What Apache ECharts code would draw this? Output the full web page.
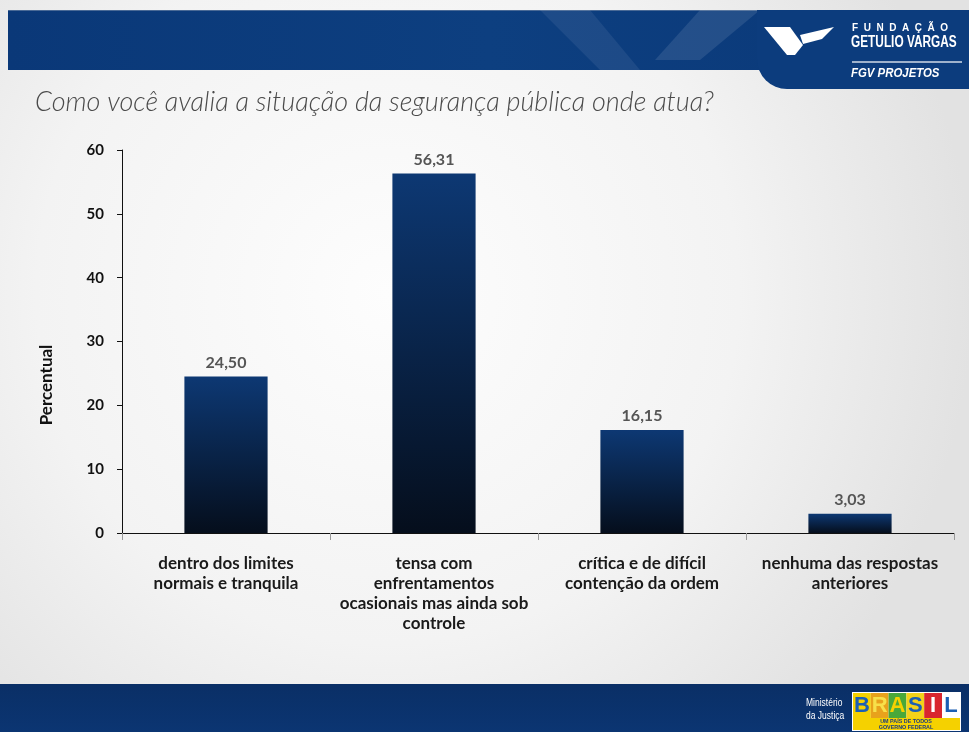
<!DOCTYPE html>
<html>
<head>
<meta charset="utf-8">
<script src="https://cdn.jsdelivr.net/npm/echarts@6/dist/echarts.min.js"></script>
<style>
  html, body { margin: 0; padding: 0; background: #f2f2f2; }
  #chart { width: 969px; height: 732px; }
</style>
</head>
<body>
<div id="chart"></div>
<script>
// Survey answers and percentages
var categories = [
  'dentro dos limites\nnormais e tranquila',
  'tensa com\nenfrentamentos\nocasionais mas ainda sob\ncontrole',
  'crítica e de difícil\ncontenção da ordem',
  'nenhuma das respostas\nanteriores'
];
var percentages = [24.50, 56.31, 16.15, 3.03];
var yTicks = { min: 0, max: 60, step: 10 };

var titleText = 'Como você avalia a situação da segurança pública onde atua?';
var axisName = 'Percentual';

var chart = echarts.init(document.getElementById('chart'), null, { renderer: 'canvas' });

var baseFont = 'Lato, "Open Sans", sans-serif';

// "BRASIL" block letters for the footer badge
var brasilLetters = [
  { ch: 'B', bg: '#f5d100', fg: '#1b5fb4' },
  { ch: 'R', bg: '#e8a21c', fg: '#f7e04a' },
  { ch: 'A', bg: '#49a83a', fg: '#f5d100' },
  { ch: 'S', bg: '#f3d21a', fg: '#1b5fb4' },
  { ch: 'I', bg: '#d9262e', fg: '#ffffff' },
  { ch: 'L', bg: '#ffffff', fg: '#1b5fb4' }
];

var graphics = [
  // top banner
  { type: 'rect', z: 0, shape: { x: 8, y: 10, width: 961, height: 60 },
    style: { fill: new echarts.graphic.LinearGradient(0, 0, 1, 0, [
      { offset: 0, color: '#0a3878' }, { offset: 0.5, color: '#0d3f80' }, { offset: 1, color: '#0a3878' }]) } },
  { type: 'rect', z: 1, shape: { x: 8, y: 10, width: 961, height: 1 }, style: { fill: '#4a6a96' } },
  { type: 'polygon', z: 1, shape: { points: [[540, 10], [590, 10], [640, 70], [600, 70]] },
    style: { fill: 'rgba(255,255,255,0.07)' } },
  { type: 'polygon', z: 1, shape: { points: [[700, 10], [760, 10], [700, 60], [655, 60]] },
    style: { fill: 'rgba(255,255,255,0.10)' } },
  // logo tab with rounded lower-left corner
  { type: 'rect', z: 2, shape: { x: 757, y: 10, width: 212, height: 79, r: [0, 0, 0, 30] },
    style: { fill: '#0c3c7d' } },
  // logo mark
  { type: 'polygon', z: 3, shape: { points: [[764, 27], [790, 27], [803, 45], [795, 55], [787, 55]] },
    style: { fill: '#ffffff' } },
  { type: 'polygon', z: 3, shape: { points: [[800, 35], [834, 27], [822, 39], [803, 44]] },
    style: { fill: '#ffffff' } },
  { type: 'text', z: 3, x: 852, y: 23,
    style: { text: 'F  U  N  D  A  Ç  Ã  O', fill: '#ffffff', font: 'bold 10px "Liberation Sans", sans-serif' } },
  { type: 'text', z: 3, x: 851, y: 35, scaleX: 0.74,
    style: { text: 'GETULIO VARGAS', fill: '#ffffff', font: 'bold 16px "Liberation Sans", sans-serif' } },
  { type: 'rect', z: 3, shape: { x: 852, y: 61, width: 110, height: 2 }, style: { fill: '#9fb2cc' } },
  { type: 'text', z: 3, x: 851, y: 68, scaleX: 0.95,
    style: { text: 'FGV PROJETOS', fill: '#ffffff', font: 'italic bold 12px "Liberation Sans", sans-serif' } },
  // title
  { type: 'text', z: 3, left: 35, top: 89,
    style: { text: titleText, fill: '#4a4a4a', font: 'italic 300 27px ' + baseFont } },
  // rotated value-axis caption
  { type: 'text', z: 3, x: 47, y: 385, rotation: Math.PI / 2,
    style: { text: axisName, fill: '#111111', font: 'bold 17px ' + baseFont, align: 'center', verticalAlign: 'middle' } },
  // bottom banner
  { type: 'rect', z: 0, shape: { x: 0, y: 684, width: 969, height: 48 },
    style: { fill: new echarts.graphic.LinearGradient(0, 0, 0, 1, [
      { offset: 0, color: '#0a2f66' }, { offset: 1, color: '#0b3572' }]) } },
  { type: 'text', z: 3, x: 806, y: 697, scaleX: 0.85,
    style: { text: 'Ministério\nda Justiça', fill: '#ffffff', lineHeight: 13, font: '10px "Liberation Sans", sans-serif' } },
  { type: 'rect', z: 3, shape: { x: 852, y: 692, width: 109, height: 39 }, style: { fill: '#ffffff' } },
  { type: 'rect', z: 3, shape: { x: 853, y: 718, width: 107, height: 12 }, style: { fill: '#f5d100' } },
  { type: 'text', z: 4, x: 906, y: 718.5, scaleX: 0.9,
    style: { text: 'UM PAÍS DE TODOS', fill: '#1a3c80', align: 'center', font: 'bold 6px "Liberation Sans", sans-serif' } },
  { type: 'text', z: 4, x: 906, y: 724, scaleX: 0.9,
    style: { text: 'GOVERNO FEDERAL', fill: '#1a3c80', align: 'center', font: 'bold 6px "Liberation Sans", sans-serif' } }
];

brasilLetters.forEach(function (l, i) {
  var bx = 853 + i * 17.8;
  graphics.push({ type: 'rect', z: 3, shape: { x: bx, y: 693, width: 17.8, height: 25 }, style: { fill: l.bg } });
  graphics.push({ type: 'text', z: 4, x: bx + 8.9, y: 705.5,
    style: { text: l.ch, fill: l.fg, align: 'center', verticalAlign: 'middle', font: 'bold 22px "Liberation Sans", sans-serif' } });
});

var option = {
  animation: false,
  backgroundColor: new echarts.graphic.RadialGradient(0.4, 0.4, 0.8, [
    { offset: 0, color: '#fdfdfd' }, { offset: 0.6, color: '#f3f3f3' }, { offset: 1, color: '#e2e2e2' }]),
  textStyle: { fontFamily: baseFont },
  graphic: graphics,
  grid: { left: 122, right: 15, top: 150, bottom: 199, containLabel: false },
  xAxis: {
    type: 'category',
    data: categories,
    axisLine: { show: true, lineStyle: { color: '#111111', width: 1 } },
    axisTick: { show: true, length: 7, lineStyle: { color: '#999999' } },
    axisLabel: {
      interval: 0, margin: 21, lineHeight: 20,
      color: '#1a1a1a', fontWeight: 'bold', fontSize: 17,
      fontFamily: baseFont
    }
  },
  yAxis: {
    type: 'value',
    min: yTicks.min, max: yTicks.max, interval: yTicks.step,
    axisLine: { show: true, lineStyle: { color: '#111111', width: 1 } },
    axisTick: { show: true, length: 5, lineStyle: { color: '#111111' } },
    axisLabel: { color: '#111111', fontWeight: 'bold', fontSize: 15, margin: 18, fontFamily: baseFont },
    splitLine: { show: false }
  },
  series: [{
    type: 'bar',
    data: percentages,
    barWidth: '40%',
    itemStyle: {
      color: new echarts.graphic.LinearGradient(0, 0, 0, 1, [
        { offset: 0, color: '#0d3873' }, { offset: 1, color: '#050e1c' }])
    },
    label: {
      show: true, position: 'top', distance: 6,
      color: '#555555', fontWeight: 'bold', fontSize: 16,
      fontFamily: baseFont,
      formatter: function (p) { return p.value.toFixed(2).replace('.', ','); }
    }
  }]
};

chart.setOption(option);
</script>
</body>
</html>
